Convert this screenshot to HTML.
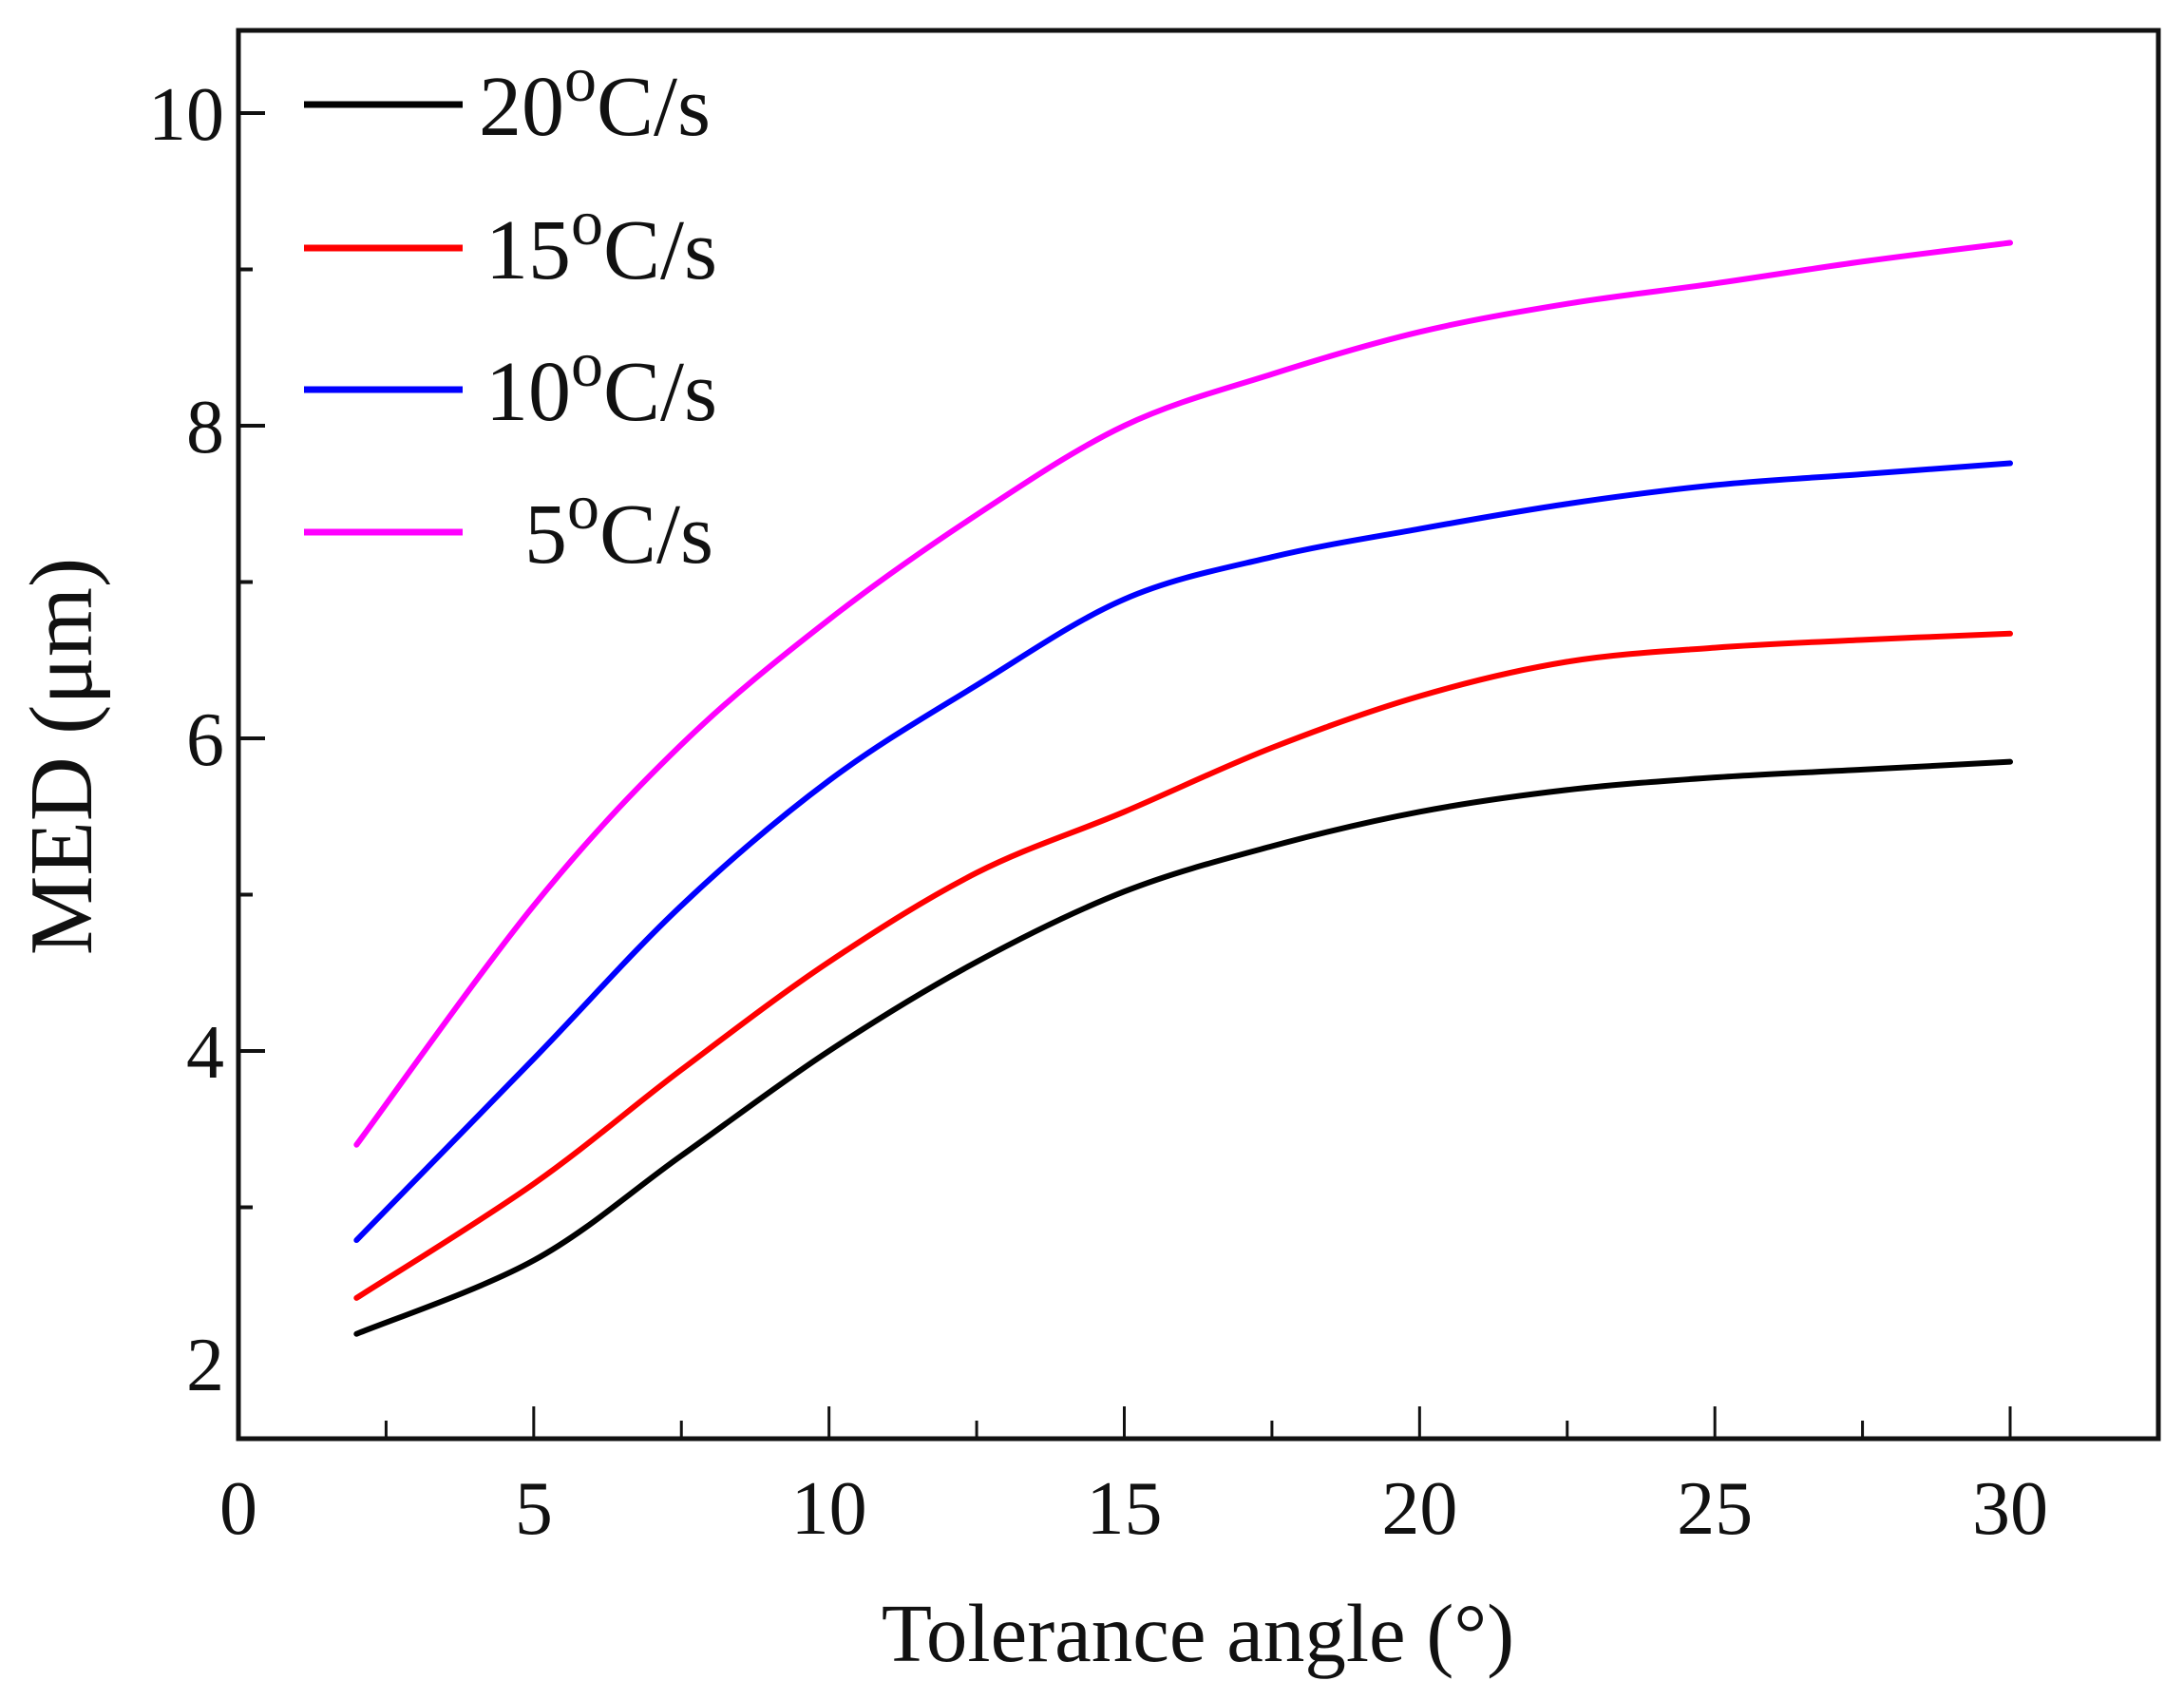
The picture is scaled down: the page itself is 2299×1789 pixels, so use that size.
<!DOCTYPE html>
<html><head><meta charset="utf-8"><style>
html,body{margin:0;padding:0;background:#fff;}
svg{display:block;font-family:"Liberation Serif",serif;}
</style></head><body>
<svg id="chart" width="2299" height="1789" viewBox="0 0 2299 1789">
<rect width="2299" height="1789" fill="#fff"/>
<g id="axes"></g>
<g id="series"></g>
<g id="legend"></g>
</svg>
<script>
const xTicks=[0,5,10,15,20,25,30];
const yTicks=[2,4,6,8,10];
const xs=[2,5,7.5,10,12.5,15,17.5,20,22.5,25,27.5,30];
const s20=[2.19,2.66,3.33,4.0,4.57,5.02,5.31,5.53,5.67,5.75,5.80,5.85];
const s15=[2.42,3.15,3.88,4.57,5.14,5.53,5.94,6.27,6.49,6.58,6.63,6.67];
const s10=[2.79,3.95,4.93,5.73,6.34,6.89,7.16,7.34,7.50,7.62,7.69,7.76];
const s5=[3.40,4.93,5.96,6.76,7.43,8.0,8.33,8.60,8.78,8.91,9.05,9.17];
const seriesNames=["20","15","10","5"];
const seriesColors=["#000","#ff0000","#0000ff","#ff00ff"];

const L=251,R=2272,T=32,B=1514;
const X0=251,XU=(2116-251)/30;
const Y10=119,YU=(1435-119)/8;
const sx=v=>X0+v*XU, sy=v=>Y10+(10-v)*YU;
const NS="http://www.w3.org/2000/svg";
function mk(tag,attrs,parent){const e=document.createElementNS(NS,tag);for(const k in attrs)e.setAttribute(k,attrs[k]);parent.appendChild(e);return e;}
const axes=document.getElementById('axes');
let f=mk('rect',{x:L,y:T,width:R-L,height:B-T,fill:'none',stroke:'#111','stroke-width':5},axes);


for(let v=2.5;v<=30;v+=2.5){
  const major=v%5===0;
  let t=mk('line',{x1:sx(v),x2:sx(v),y1:B,y2:B-(major?34:19),stroke:'#111','stroke-width':3},axes);
  
  
}
xTicks.forEach(v=>{
  let t=mk('text',{x:sx(v),y:1614,'font-size':80,'text-anchor':'middle',fill:'#111'},axes);t.textContent=v;
  
  
});
for(let v=3;v<=10;v+=1){
  const major=v%2===0;
  let t=mk('line',{x1:L,x2:L+(major?28:15),y1:sy(v),y2:sy(v),stroke:'#111','stroke-width':4},axes);
  
  
}
yTicks.forEach(v=>{
  let t=mk('text',{x:236,y:sy(v)+28,'font-size':80,'text-anchor':'end',fill:'#111'},axes);t.textContent=v;
  
  
});
let xt=mk('text',{x:1261,y:1748,'font-size':87,'text-anchor':'middle',fill:'#111'},axes);xt.textContent='Tolerance angle (°)';


let yt=mk('text',{x:0,y:0,'font-size':94,'text-anchor':'middle',fill:'#111',transform:'translate(96,796) rotate(-90)'},axes);yt.textContent='MED (μm)';



function pathD(xv,yv){
  const p=xv.map((x,i)=>[sx(x),sy(yv[i])]);
  let d='M'+p[0][0]+','+p[0][1];
  for(let i=0;i<p.length-1;i++){
    const p0=p[Math.max(0,i-1)],p1=p[i],p2=p[i+1],p3=p[Math.min(p.length-1,i+2)];
    const c1=[p1[0]+(p2[0]-p0[0])/6,p1[1]+(p2[1]-p0[1])/6];
    const c2=[p2[0]-(p3[0]-p1[0])/6,p2[1]-(p3[1]-p1[1])/6];
    d+=` C${c1[0]},${c1[1]} ${c2[0]},${c2[1]} ${p2[0]},${p2[1]}`;
  }
  return d;
}
const sg=document.getElementById('series');
[s20,s15,s10,s5].forEach((ys,i)=>{
  let p=mk('path',{d:pathD(xs,ys),fill:'none',stroke:seriesColors[i],'stroke-width':6,'stroke-linecap':'round'},sg);
  
  
});
const lg=document.getElementById('legend');
const ly=[110,261,410,560], lx=[504,511,511,552];
seriesNames.forEach((n,i)=>{
  let g=mk('g',{},lg);
  
  
  mk('line',{x1:320,x2:487,y1:ly[i],y2:ly[i],stroke:seriesColors[i],'stroke-width':7},g);
  let t=mk('text',{x:lx[i],y:ly[i]+32,'font-size':90,fill:'#111'},g);
  t.innerHTML=n+'<tspan dy="-36" font-size="68">o</tspan><tspan dy="36">C/s</tspan>';
});
</script>
</body></html>
